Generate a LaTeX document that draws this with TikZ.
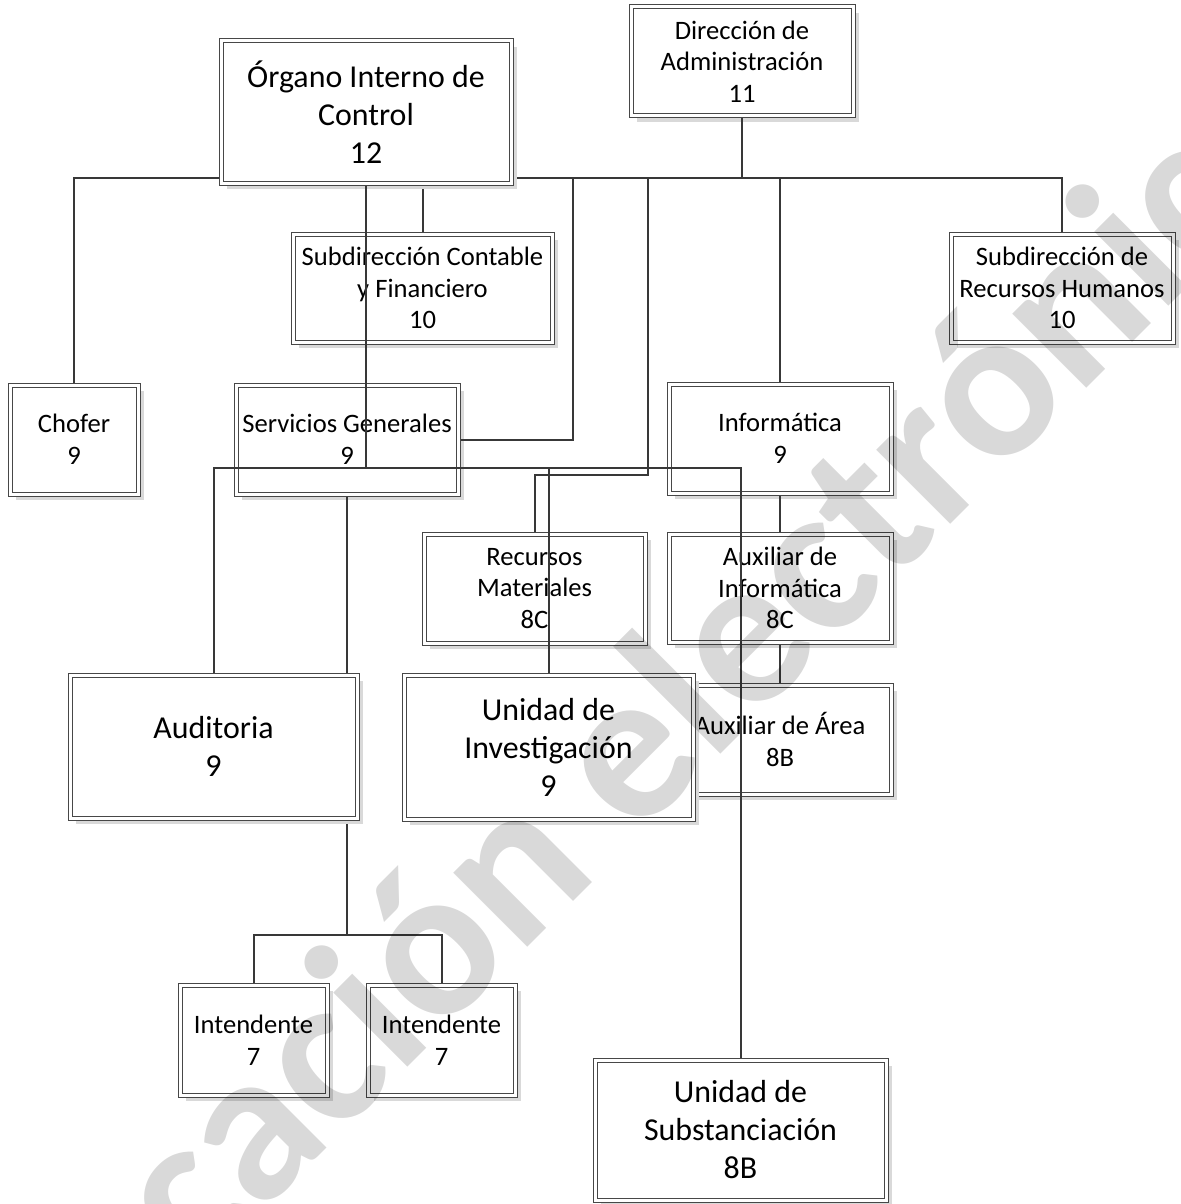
\documentclass[tikz,border=0pt]{standalone}
\usepackage{fontspec}
\setmainfont{Carlito}
\usetikzlibrary{shadows}
\tikzset{
  obox/.style={draw=black!72, line width=0.5pt, double=white, double distance=1.5pt,
    fill=white, outer sep=1.25pt, inner sep=0pt, align=center,
    general shadow={draw=none, fill=black!15, shadow xshift=3pt, shadow yshift=-3pt}},
  smalltxt/.style={font=\fontsize{13.3}{15.85}\selectfont},
  bigtxt/.style={font=\fontsize{15.95}{19}\selectfont},
  conn/.style={draw=black!78, line width=1pt},
  wmark/.style={font=\fontsize{108}{108}\selectfont\bfseries, text=black, text opacity=0.15, inner sep=0pt}
}
\newcommand\orgbox[7][]{%
  \node[obox,#1,minimum width={(#5-#3-4)*0.5pt},minimum height={(#6-#4-4)*0.5pt}] (#2) at ({(#3+#5)/2},{(#4+#6)/2}) {#7};}
\begin{document}
\begin{tikzpicture}[x=0.5pt,y=-0.5pt]
\useasboundingbox (0,0) rectangle (1181,1204);
\fill[white] (0,0) rectangle (1181,1204);
\clip (0,0) rectangle (1181,1204);

% junction points
\coordinate (dirbus) at (742,178);
\coordinate (oicbus) at (366,468);
\coordinate (intbus) at (347,935);
\coordinate (sgturn) at (573,439.5);
\coordinate (rmturn) at (648,475);

% connectors drawn behind the boxes
\orgbox[smalltxt]{sg}{234}{383}{460}{496}{Servicios Generales\\9}
\draw[conn] (sg.south) -- (sg.south |- intbus);
\orgbox[smalltxt]{int1}{178}{983}{329}{1097}{Intendente\\7}
\orgbox[smalltxt]{int2}{366}{983}{517}{1097}{Intendente\\7}
\draw[conn] (intbus) -| (int1.north);
\draw[conn] (intbus) -| (int2.north);

% boxes
\orgbox[smalltxt]{dir}{629}{5}{855}{118}{Dirección de\\Administración\\11}
\orgbox[smalltxt]{subc}{291}{232}{554}{344}{Subdirección Contable\\y Financiero\\10}
\orgbox[smalltxt]{rh}{949}{232}{1175}{344}{Subdirección de\\Recursos Humanos\\10}
\orgbox[smalltxt]{chofer}{8}{383}{140}{496}{Chofer\\9}
\orgbox[smalltxt]{inf}{667}{382}{893}{495}{Informática\\9}
\orgbox[smalltxt]{rm}{422}{532}{647}{645}{Recursos\\Materiales\\8C}
\orgbox[smalltxt]{auxinf}{667}{532}{893}{644}{Auxiliar de\\Informática\\8C}
\orgbox[smalltxt]{auxarea}{667}{683}{893}{796}{Auxiliar de Área\\8B}
\orgbox[bigtxt]{aud}{68}{673}{359}{820}{Auditoria\\9}
\orgbox[bigtxt]{ui}{402}{673}{695}{821}{Unidad de\\Investigación\\9}
\orgbox[bigtxt]{subst}{593}{1058}{888}{1202}{Unidad de\\Substanciación\\8B}

% Dirección connectors (run behind the Órgano Interno de Control box)
\draw[conn] (dir.south) -- (dirbus) -| (chofer.north);
\draw[conn] (dirbus) -| (subc.north);
\draw[conn] (dirbus) -| (sgturn) -- (sg.east);
\draw[conn] (dirbus) -| (rmturn) -| (rm.north);
\draw[conn] (dirbus) -| (inf.north);
\draw[conn] (dirbus) -| (rh.north);

\orgbox[bigtxt]{oic}{219}{39}{513}{185}{Órgano Interno de\\Control\\12}

% Órgano Interno de Control connectors (on top)
\draw[conn] (oic.south) -- (oicbus) -| (aud.north);
\draw[conn] (oicbus) -| (ui.north);
\draw[conn] (oicbus) -| (subst.north);
\draw[conn] (sg.south) -- (sg.south |- aud.north);

% Informática chain
\draw[conn] (inf.south) -- (auxinf.north);
\draw[conn] (auxinf.south) -- (auxarea.north);

% watermark
\node[wmark, rotate=45, anchor=base west] (wm) at (196,1279) {cación electrónica};
\end{tikzpicture}
\end{document}
